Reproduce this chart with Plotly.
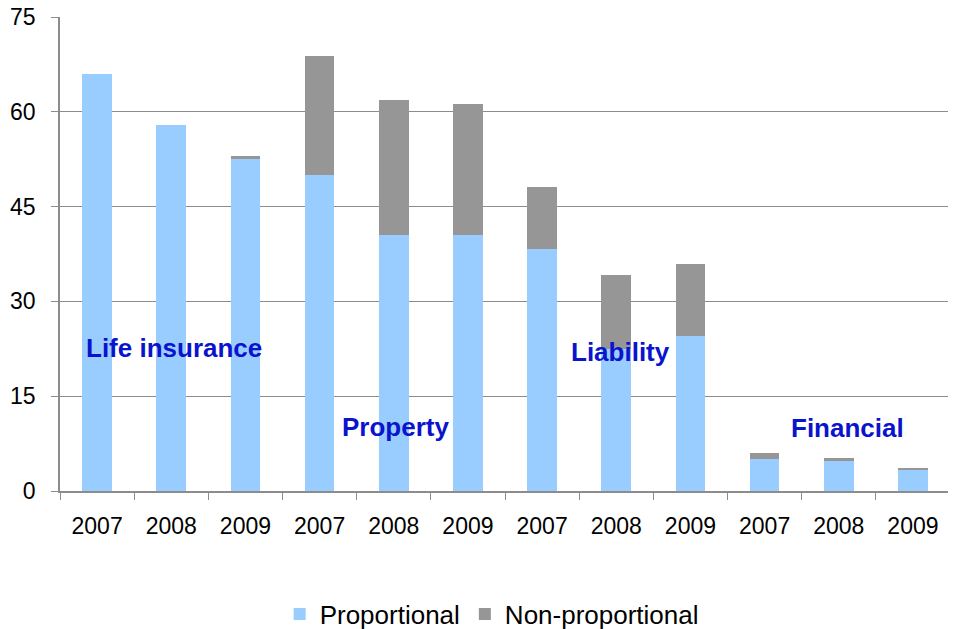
import plotly.graph_objects as go

years = ["2007", "2008", "2009"] * 4
segments = ["Life insurance", "Property", "Liability", "Financial"]
proportional = [66.0, 57.9, 52.5, 50.0, 40.5, 40.5, 38.3, 22.5, 24.6, 5.1, 4.75, 3.3]
non_proportional = [0.0, 0.0, 0.5, 18.8, 21.4, 20.7, 9.8, 11.7, 11.3, 0.9, 0.55, 0.4]
y_ticks = [0, 15, 30, 45, 60, 75]

x = list(range(len(years)))
font_family = "Liberation Sans, Arial, sans-serif"

fig = go.Figure()
fig.add_trace(go.Bar(x=x, y=proportional, name="Proportional",
                     marker=dict(color="#99CCFF", line=dict(width=0)), width=0.4))
fig.add_trace(go.Bar(x=x, y=non_proportional, name="Non-proportional",
                     marker=dict(color="#969696", line=dict(width=0)), width=0.4))

label_pos = [(1.04, 22.7), (4.03, 10.1), (7.06, 22.0), (10.12, 10.0)]
for name, (lx, ly) in zip(segments, label_pos):
    fig.add_annotation(x=lx, y=ly, xref="x", yref="y", text="<b>%s</b>" % name,
                       showarrow=False, font=dict(family=font_family, size=26, color="#0A14CC"))

fig.update_layout(
    barmode="stack",
    width=948, height=621,
    margin=dict(l=52, r=6, t=9, b=138, autoexpand=False),
    plot_bgcolor="white", paper_bgcolor="white",
    font=dict(family=font_family, size=23, color="#000000"),
    showlegend=True,
    legend=dict(orientation="h", x=0.485, xanchor="center", yref="container", y=0.024,
                yanchor="middle", font=dict(size=26), itemwidth=30, traceorder="normal"),
    xaxis=dict(range=[-0.5, 11.5], tickvals=x, ticktext=years, ticks="",
               showgrid=False, zeroline=False, showline=True, linecolor="#8C8C8C", linewidth=1.5,
               tickfont=dict(size=23), automargin=False, ticklabelstandoff=14,
               minor=dict(tickvals=[i - 0.5 for i in range(13)], ticks="outside",
                          ticklen=7, tickcolor="#8C8C8C", showgrid=False)),
    yaxis=dict(range=[0, 75], tickvals=y_ticks, ticks="outside", ticklen=7, tickcolor="#8C8C8C",
               showgrid=True, gridcolor="#8C8C8C", gridwidth=1, zeroline=False,
               showline=True, linecolor="#8C8C8C", linewidth=1.5, tickfont=dict(size=23),
               automargin=False, ticklabelstandoff=11, ticklabeloverflow="allow"),
)

fig.write_html("out.html")
